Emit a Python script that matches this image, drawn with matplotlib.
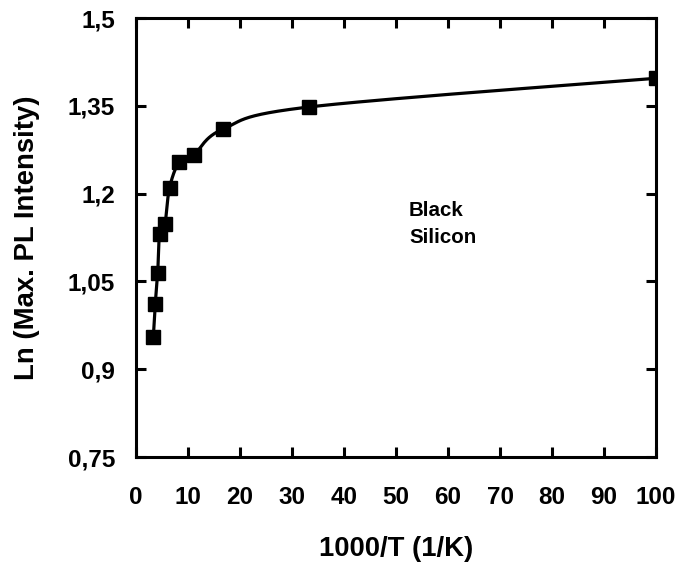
import numpy as np
import matplotlib
matplotlib.use('Agg')
import matplotlib.pyplot as plt

plt.rcParams['font.family'] = ['Liberation Sans', 'DejaVu Sans']
plt.rcParams['font.weight'] = 'bold'

# measured points (1000/T vs ln of max PL intensity)
inv_temp = [3.33, 3.7, 4.17, 4.55, 5.56, 6.45, 8.33, 11.1, 16.7, 33.3, 100]
ln_pl = [0.955, 1.011, 1.064, 1.131, 1.148, 1.210, 1.254, 1.266, 1.310, 1.348, 1.397]

x_ticks = [0, 10, 20, 30, 40, 50, 60, 70, 80, 90, 100]
y_ticks = [0.75, 0.9, 1.05, 1.2, 1.35, 1.5]
y_tick_labels = ['0,75', '0,9', '1,05', '1,2', '1,35', '1,5']


def smooth_line(ax, xs, ys, n=30):
    # Catmull-Rom through the points, worked out in display space
    # so the bends look the same as a spreadsheet "smoothed line"
    pts = ax.transData.transform(np.column_stack([xs, ys]))
    pts = np.vstack([pts[0], pts, pts[-1]])
    out = []
    for i in range(1, len(pts) - 2):
        p0, p1, p2, p3 = pts[i - 1], pts[i], pts[i + 1], pts[i + 2]
        t = np.linspace(0, 1, n)[:, None]
        seg = 0.5 * ((2 * p1) + (-p0 + p2) * t
                     + (2 * p0 - 5 * p1 + 4 * p2 - p3) * t ** 2
                     + (-p0 + 3 * p1 - 3 * p2 + p3) * t ** 3)
        out.append(seg)
    out = np.vstack(out)
    return ax.transData.inverted().transform(out)


fig = plt.figure(figsize=(6.79, 5.69), dpi=100)
ax = fig.add_axes([136 / 679, 1 - 457 / 569, 520 / 679, 439 / 569])

ax.set_xlim(0, 100)
ax.set_ylim(0.75, 1.5)

curve = smooth_line(ax, inv_temp, ln_pl)
ax.plot(curve[:, 0], curve[:, 1], color='black', lw=2.3, zorder=2)
ax.plot(inv_temp, ln_pl, ls='none', marker='s', ms=9.5, color='black', zorder=3)

ax.set_xticks(x_ticks)
ax.set_xticklabels([str(v) for v in x_ticks])
ax.set_yticks(y_ticks)
ax.set_yticklabels(y_tick_labels)

for s in ax.spines.values():
    s.set_linewidth(2.2)
ax.tick_params(direction='in', length=7, width=2.2, top=True, right=True,
               labelsize=17.5)
ax.tick_params(axis='x', pad=21)
ax.tick_params(axis='y', pad=15)

ax.set_xlabel('1000/T (1/K)', fontsize=19.8, fontweight='bold')
ax.set_ylabel('Ln (Max. PL Intensity)', fontsize=19.8, fontweight='bold')
ax.xaxis.set_label_coords(0.5, -0.179)
ax.yaxis.set_label_coords(-0.185, 0.5)

ax.text(52.5, 1.188, 'Black\nSilicon', fontsize=14.8, fontweight='bold',
        va='top', ha='left', linespacing=1.55)

fig.savefig('out.png', dpi=100)
